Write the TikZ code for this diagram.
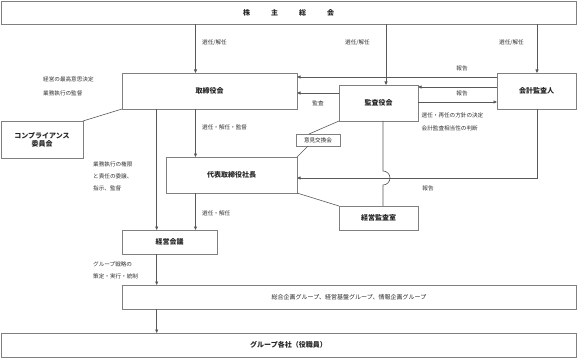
\documentclass[tikz,border=0pt]{standalone}
\usepackage{fontspec}
\setmainfont{Noto Sans CJK JP}
\usetikzlibrary{arrows.meta}
\begin{document}
\begin{tikzpicture}[x=1pt,y=-1pt,
  box/.style={draw=black!50,line width=0.9pt,fill=white,inner sep=0pt,outer sep=0pt,font=\fontsize{7}{8}\selectfont\bfseries,text=black!85},
  arr/.style={draw=black!65,line width=0.6pt,-{Triangle[length=3.5pt,width=3pt]}},
  ln/.style={draw=black!65,line width=0.6pt},
  lbl/.style={font=\fontsize{5.6}{6}\selectfont,text=black!80,inner sep=0pt}]
\useasboundingbox[fill=white] (0,0) rectangle (577,358);
% boxes
\node[box,minimum width=575pt,minimum height=23pt] (kabu) at (288.5,12.5) {株\hspace{21pt}主\hspace{21pt}総\hspace{21pt}会};
\node[box,minimum width=175pt,minimum height=36pt] (tori) at (209.5,91) {取締役会};
\node[box,minimum width=79pt,minimum height=36pt] (kansa) at (378.5,103) {監査役会};
\node[box,minimum width=79pt,minimum height=36pt] (kaikei) at (536.5,91) {会計監査人};
\node[box,minimum width=82pt,minimum height=37pt,align=center] (comp) at (42,139.5) {コンプライアンス\\委員会};
\node[box,minimum width=44pt,minimum height=12pt,font=\fontsize{5.6}{6}\selectfont,line width=0.7pt] (iken) at (318,140) {意見交換会};
\node[box,minimum width=131pt,minimum height=36pt] (daihyo) at (231.5,175) {代表取締役社長};
\node[box,minimum width=79pt,minimum height=24pt] (kansashitsu) at (378.5,218) {経営監査室};
\node[box,minimum width=95pt,minimum height=24pt] (kaigi) at (169.5,242) {経営会議};
\node[box,minimum width=454pt,minimum height=24pt,font=\fontsize{6}{7}\selectfont] (sogo) at (349,297) {総合企画グループ、経営基盤グループ、情報企画グループ};
\node[box,minimum width=575pt,minimum height=24pt] (group) at (288.5,345) {グループ各社（役職員）};
% x positions
\coordinate (xA) at (156.7,0);
\coordinate (xB) at (195.5,0);
\coordinate (xC) at (386,0);
\coordinate (xD) at (537,0);
\coordinate (xE) at (383,0);
\coordinate (y1) at (0,77);
\coordinate (y2) at (0,87);
\coordinate (y3) at (0,93);
\coordinate (y4) at (0,102);
\coordinate (y5) at (0,178);
% arrows from shareholders
\draw[arr] (kabu.south -| xB) -- (tori.north -| xB);
\draw[arr] (kabu.south -| xC) -- (kansa.north -| xC);
\draw[arr] (kabu.south -| xD) -- (kaikei.north -| xD);
% horizontal
\draw[arr] (kaikei.west |- y1) -- (tori.east |- y1);
\draw[arr] (kaikei.west |- y2) -- (kansa.east |- y2);
\draw[arr] (kansa.west |- y3) -- (tori.east |- y3);
\draw[arr] (kansa.east |- y4) -- (kaikei.west |- y4);
% kaikei down to daihyo
\draw[arr] (kaikei.south -| xD) -- (xD |- y5) -- (daihyo.east |- y5);
% kansa to kansashitsu with jump
\draw[ln] (kansa.south -| xE) -- (383,171) arc[start angle=-90,end angle=90,radius=7] -- (kansashitsu.north -| xE);
% tori down
\draw[arr] (tori.south -| xA) -- (kaigi.north -| xA);
\draw[arr] (tori.south -| xB) -- (daihyo.north -| xB);
\draw[arr] (daihyo.south -| xB) -- (kaigi.north -| xB);
\draw[arr] (kaigi.south -| xA) -- (sogo.north -| xA);
\draw[arr] (sogo.south -| xA) -- (group.north -| xA);
% plain lines
\draw[ln] (tori.south west) -- (comp.north east);
\draw[ln] (kansa.south west) -- (iken.north -| 309,0);
\draw[ln] (iken.south -| 308,0) -- (daihyo.north east);
\draw[ln] (daihyo.south east) -- (kansashitsu.north west);
% labels
\node[lbl,anchor=west] (l1) at (202,43) {選任/解任};
\node[lbl,anchor=west] (l2) at (345,43) {選任/解任};
\node[lbl,anchor=west] (l3) at (499,43) {選任/解任};
\node[lbl] (l4) at (462,68) {報告};
\node[lbl] (l5) at (462,93) {報告};
\node[lbl] (l6) at (318,103) {監査};
\node[lbl,anchor=west] (l7) at (421.5,115) {選任・再任の方針の決定};
\node[lbl,anchor=west] (l8) at (421.5,128) {会計監査相当性の判断};
\node[lbl,anchor=west] (l9) at (43,79) {経営の最高意思決定};
\node[lbl,anchor=west] (l10) at (43,93) {業務執行の監督};
\node[lbl,anchor=west] (l11) at (202,127) {選任・解任・監督};
\node[lbl,anchor=west] (l12) at (93,164) {業務執行の権限};
\node[lbl,anchor=west] (l13) at (93,176) {と責任の委譲、};
\node[lbl,anchor=west] (l14) at (93,188) {指示、監督};
\node[lbl,anchor=west] (l15) at (202,213) {選任・解任};
\node[lbl] (l16) at (428,188) {報告};
\node[lbl,anchor=west] (l17) at (93,264) {グループ戦略の};
\node[lbl,anchor=west] (l18) at (93,276) {策定・実行・統制};
\end{tikzpicture}
\end{document}
